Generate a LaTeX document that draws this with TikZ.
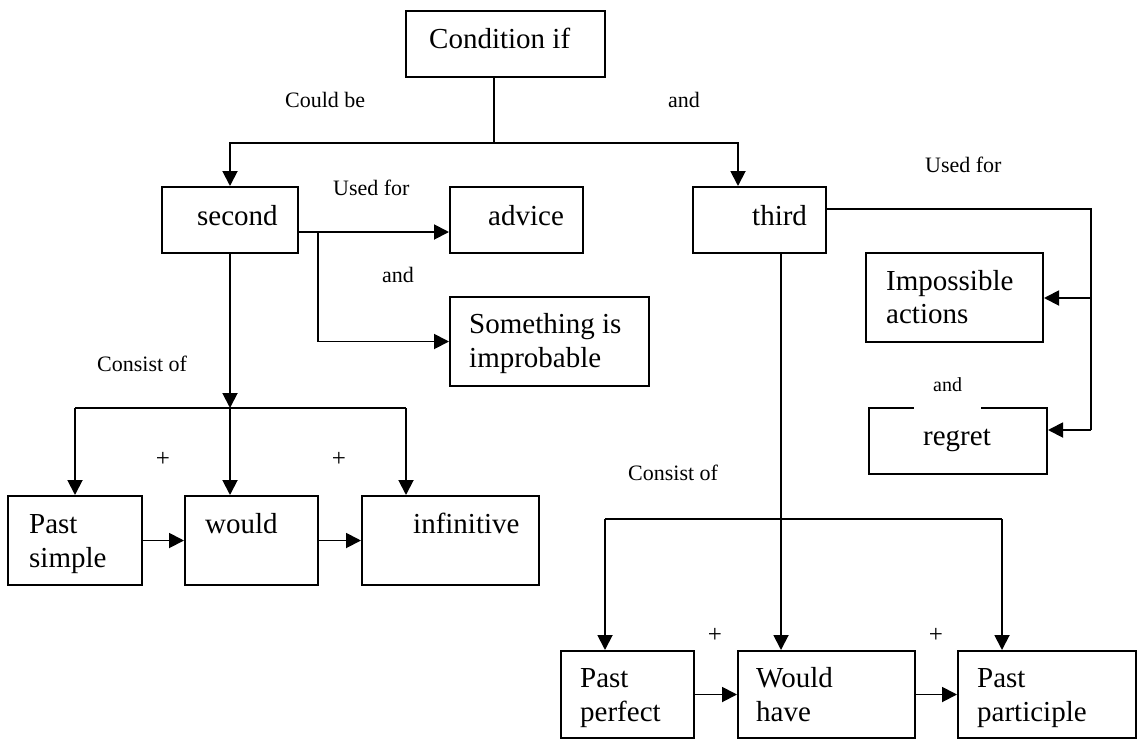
\documentclass[tikz,border=0pt]{standalone}
\usepackage{fontspec}
\setmainfont{Liberation Serif}
\usetikzlibrary{arrows.meta}
\begin{document}
\begin{tikzpicture}[x=1pt,y=-1pt,
  box/.style={draw, line width=2pt, inner sep=0pt},
  ln/.style={line width=1.9pt},
  arr/.style={line width=1.9pt, -{Triangle[width=15pt,length=15pt]}},
  bt/.style={font=\fontsize{29}{34}\selectfont, anchor=base west, inner sep=0pt},
  lb/.style={font=\fontsize{22}{26}\selectfont, anchor=base west, inner sep=0pt},
  pl/.style={font=\fontsize{25}{28}\selectfont, anchor=center, inner sep=0pt}]
\useasboundingbox (0,0) rectangle (1138,742);

% boxes
\node[box, minimum width=199pt, minimum height=66pt] (cond) at (505.5,44) {};
\node[box, minimum width=136pt, minimum height=66pt] (second) at (230,220) {};
\node[box, minimum width=133pt, minimum height=66pt] (advice) at (516.5,220) {};
\node[box, minimum width=133pt, minimum height=66pt] (third) at (759.5,220) {};
\node[box, minimum width=199pt, minimum height=89pt] (something) at (549.5,341.5) {};
\node[box, minimum width=177pt, minimum height=89pt] (impossible) at (954.5,297.5) {};
\node[box, minimum width=178pt, minimum height=66pt] (regret) at (958,441) {};
\node[box, minimum width=134pt, minimum height=89pt] (pastsimple) at (75,540.5) {};
\node[box, minimum width=133pt, minimum height=89pt] (would) at (251.5,540.5) {};
\node[box, minimum width=177pt, minimum height=89pt] (infinitive) at (450.5,540.5) {};
\node[box, minimum width=133pt, minimum height=87pt] (pastperfect) at (627.5,694.5) {};
\node[box, minimum width=177pt, minimum height=87pt] (wouldhave) at (826.5,694.5) {};
\node[box, minimum width=178pt, minimum height=87pt] (participle) at (1047,694.5) {};
\draw[white, line width=2.6pt] (914,408) -- (981,408);

% box texts
\node[bt] (tcond) at (429,48) {Condition if};
\node[bt] (tsecond) at (197,225) {second};
\node[bt] (tadvice) at (488,225) {advice};
\node[bt] (tthird) at (752,225) {third};
\node[bt] (tsome1) at (469,333) {Something is};
\node[bt] (tsome2) at (469,367) {improbable};
\node[bt] (timp1) at (886,290) {Impossible};
\node[bt] (timp2) at (886,323) {actions};
\node[bt] (tregret) at (923,445) {regret};
\node[bt] (tps1) at (29,533) {Past};
\node[bt] (tps2) at (29,567) {simple};
\node[bt] (twould) at (205,533) {would};
\node[bt] (tinf) at (413,533) {infinitive};
\node[bt] (tpp1) at (580,687) {Past};
\node[bt] (tpp2) at (580,721) {perfect};
\node[bt] (twh1) at (756,687) {Would};
\node[bt] (twh2) at (756,721) {have};
\node[bt] (tpa1) at (977,687) {Past};
\node[bt] (tpa2) at (977,721) {participle};

% labels
\node[lb] (lcould) at (285,107) {Could be};
\node[lb] (land1) at (668,107) {and};
\node[lb] (lused1) at (333,195) {Used for};
\node[lb] (land2) at (382,282) {and};
\node[lb] (lused2) at (925,172) {Used for};
\node[lb, font=\fontsize{20}{24}\selectfont] (land3) at (933,391) {and};
\node[lb] (lcons1) at (97,371) {Consist of};
\node[lb] (lcons2) at (628,480) {Consist of};
\node[pl] (plus1) at (163,459) {+};
\node[pl] (plus2) at (339,459) {+};
\node[pl] (plus3) at (715,635) {+};
\node[pl] (plus4) at (936,635) {+};

% junction coordinates
\coordinate (t) at (494,143);
\coordinate (a3) at (738,143);
\coordinate (j1) at (318,232);
\coordinate (c2) at (230,408);
\coordinate (hL) at (75,408);
\coordinate (hR) at (406,408);
\coordinate (r1) at (1091,209);
\coordinate (r2) at (1091,298);
\coordinate (r3) at (1091,430);
\coordinate (d3) at (781,253);
\coordinate (hL2) at (605,519);
\coordinate (hR2) at (1002,519);

% top tree
\draw[ln] (cond.south -| t) -- (t);
\draw[arr] (t) -| (second.north);
\draw[arr] (t) -- (a3) -- (a3 |- third.north);

% second
\draw[arr] (second.east |- j1) -- (advice.west |- j1);
\draw[arr] (j1) |- (something.west);
\draw[arr] (second.south) -- (c2);
\draw[ln] (hL) -- (hR);
\draw[arr] (hL) -- (pastsimple.north);
\draw[arr] (c2) -- (c2 |- would.north);
\draw[arr] (hR) -- (hR |- infinitive.north);
\draw[arr] (pastsimple.east) -- (would.west);
\draw[arr] (would.east) -- (infinitive.west);

% third
\draw[ln] (third.east |- r1) -- (r1) -- (r3);
\draw[arr] (r2) -- (impossible.east |- r2);
\draw[arr] (r3) -- (regret.east |- r3);
\draw[arr] (third.south -| d3) -- (d3 |- wouldhave.north);
\draw[ln] (hL2) -- (hR2);
\draw[arr] (hL2) -- (hL2 |- pastperfect.north);
\draw[arr] (hR2) -- (hR2 |- participle.north);
\draw[arr] (pastperfect.east) -- (wouldhave.west);
\draw[arr] (wouldhave.east) -- (participle.west);
\end{tikzpicture}
\end{document}
